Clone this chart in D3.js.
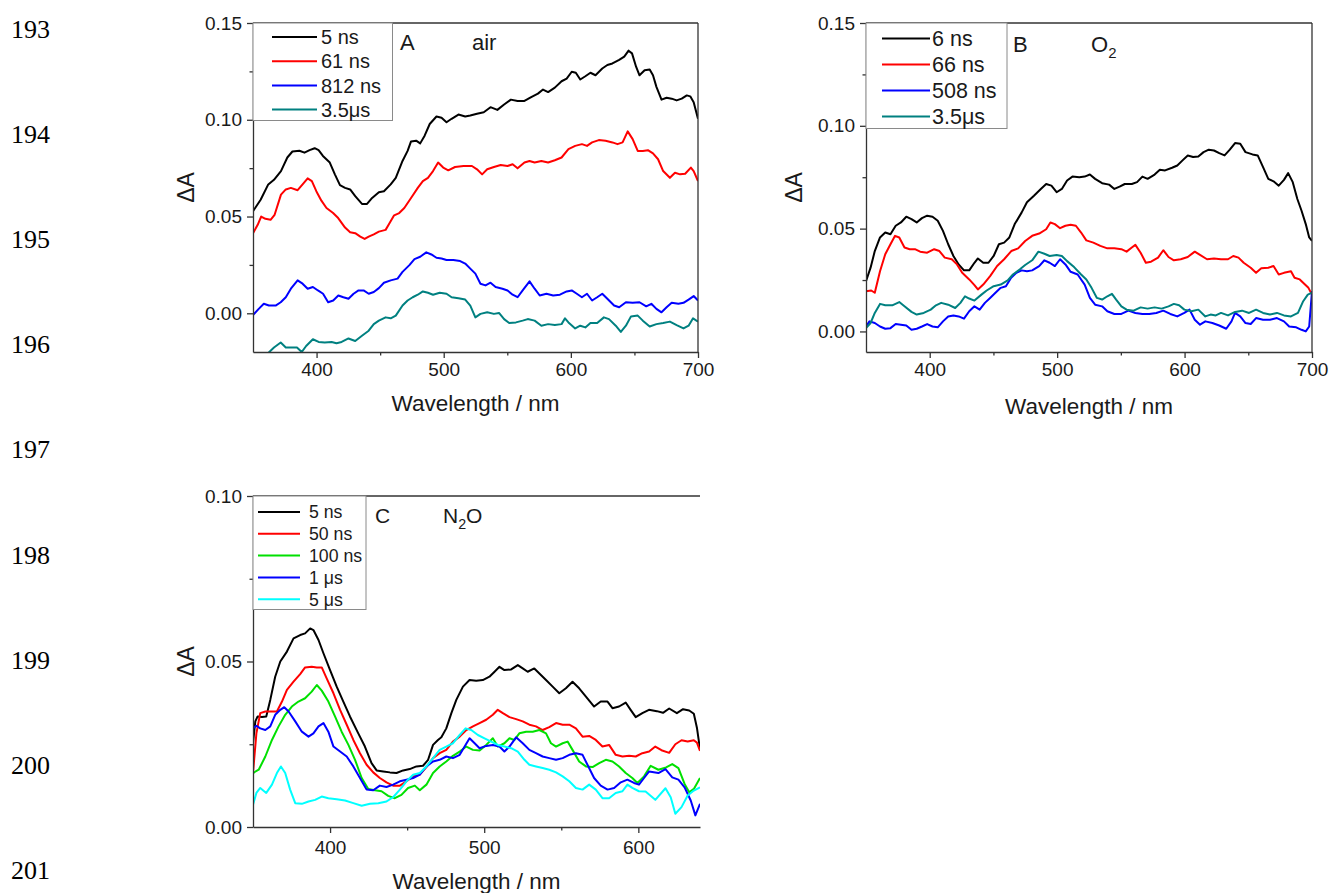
<!DOCTYPE html>
<html><head><meta charset="utf-8">
<script src="https://cdn.jsdelivr.net/npm/d3@7"></script>
<style>
body{margin:0;background:#fff}
svg{display:block}
text{font-family:"Liberation Sans",Arial,Helvetica,sans-serif;fill:#1a1a1a}
.ln{font-family:"Liberation Serif","Times New Roman",serif;fill:#000}
</style>
</head><body>
<svg id="chart" width="1329" height="893"></svg>
<script>
// ---------------- DATA ----------------
const lineNumbers = ["193","194","195","196","197","198","199","200","201"];

const xTicksAB = [400,500,600,700];
const xMinorAB = [450,550,650];
const xTicksC = [400,500,600];
const xMinorC = [450,550];
const yTicksAB = [0.00,0.05,0.10,0.15];
const yMinorAB = [0.025,0.075,0.125];
const yTicksC = [0.00,0.05,0.10];
const yMinorC = [0.025,0.075];

// Panel A (air)
const A_labels = ["5 ns","61 ns","812 ns","3.5\u03bcs"];
const A_colors = ["#000000","#ff0000","#0000ff","#008080"];
const A_5ns = [[350,0.0527],[356,0.0587],[362,0.0666],[366.5,0.069],[372,0.0735],[377,0.0805],[381,0.0836],[386.5,0.084],[390.5,0.083],[394.5,0.0843],[398.5,0.0853],[401.6,0.0843],[405,0.0813],[410.4,0.0779],[414.4,0.0718],[418.4,0.0662],[422.4,0.0648],[426.4,0.064],[430.4,0.0605],[435.7,0.0565],[439.7,0.0565],[443.7,0.0596],[449,0.0626],[453,0.0631],[458.3,0.0666],[462.3,0.07],[467.6,0.0787],[471.6,0.0839],[474.3,0.0888],[478.3,0.0892],[481.5,0.0878],[485,0.0918],[489,0.0978],[494.3,0.1017],[498.3,0.101],[502.2,0.0987],[506.2,0.1005],[511.6,0.1027],[516.9,0.1017],[520.9,0.1022],[526.2,0.1031],[531.5,0.1039],[536.8,0.1065],[542.2,0.1051],[547.5,0.1079],[552.8,0.1104],[558.1,0.1097],[563.5,0.1097],[568.8,0.1117],[574.1,0.1135],[578.1,0.1156],[582.1,0.1143],[587.4,0.1166],[592.7,0.1199],[596.7,0.1213],[600.7,0.1248],[603.9,0.1243],[607.4,0.1208],[611.4,0.1225],[615.4,0.1243],[619.4,0.123],[624.7,0.1265],[628.7,0.1283],[632.7,0.1291],[638,0.1309],[642,0.1326],[645.4,0.1357],[648.1,0.1343],[651.3,0.1274],[654,0.123],[658,0.1256],[662,0.126],[664.6,0.123],[667.3,0.117],[671.3,0.1104],[675.3,0.1114],[679.3,0.1109],[683.2,0.11],[687.2,0.1109],[691.2,0.1126],[693.9,0.1121],[696.6,0.1091],[700,0.1005]];
const A_61ns = [[350,0.0414],[353.7,0.0457],[356.4,0.05],[359.8,0.0488],[363.8,0.0483],[367,0.0509],[372,0.0613],[375.8,0.064],[379.8,0.0648],[385.1,0.0636],[389,0.0666],[393,0.0697],[396.3,0.0683],[399.8,0.0631],[403.8,0.0582],[407.8,0.0544],[413,0.0518],[417,0.0492],[422.4,0.0443],[426.4,0.0419],[430.4,0.0414],[434.4,0.0396],[437.8,0.0384],[441,0.0396],[445,0.0408],[449,0.0422],[454.3,0.0431],[457,0.0461],[461,0.0506],[465,0.0518],[469,0.0544],[474.3,0.0596],[479.6,0.0648],[483.6,0.0683],[487.6,0.07],[491.6,0.0735],[495.6,0.0779],[499.6,0.0753],[503.6,0.0739],[508.9,0.0756],[515.6,0.0761],[522.2,0.0761],[526.2,0.0744],[530.2,0.0718],[534.2,0.0744],[539.5,0.0756],[544.8,0.0766],[550.2,0.0761],[554.2,0.077],[558.1,0.0749],[563.5,0.0779],[567.5,0.0787],[571.5,0.0779],[576.8,0.0787],[582.1,0.0779],[587.4,0.0791],[592.7,0.0805],[598.1,0.0848],[603.4,0.0865],[608.7,0.0874],[612.7,0.0865],[616.7,0.0883],[622,0.0895],[627.3,0.0892],[632.7,0.0883],[636.7,0.0874],[640.7,0.0883],[644.7,0.094],[648.6,0.09],[652.6,0.0839],[656.6,0.0839],[660.6,0.0843],[664.6,0.0826],[668.6,0.0796],[672.6,0.0735],[677.9,0.07],[681.9,0.0726],[685.9,0.0718],[689.9,0.0721],[694.4,0.0753],[696.6,0.0735],[700,0.0683]];
const A_812ns = [[350,-0.0009],[354.5,0.0023],[358.5,0.0049],[362.5,0.004],[367.8,0.004],[371.8,0.0057],[375.8,0.0083],[379.8,0.0127],[385.1,0.017],[389,0.0153],[393,0.0127],[397.1,0.0136],[401.1,0.0118],[405.1,0.0101],[409.1,0.0057],[413.1,0.0066],[417.1,0.0092],[421.1,0.0083],[425.1,0.0075],[429.1,0.0101],[433,0.0118],[437,0.0118],[441,0.0101],[445,0.011],[449,0.013],[453,0.0158],[458.3,0.017],[463.7,0.0179],[467.6,0.0214],[473,0.0249],[477,0.028],[481.5,0.0292],[486.3,0.0315],[490.3,0.0304],[494.3,0.0287],[498.3,0.0283],[502.2,0.0275],[507.6,0.0275],[512.9,0.027],[516.9,0.0257],[520.9,0.0231],[524.9,0.0205],[528.9,0.0153],[532.9,0.0144],[536.8,0.0158],[540.8,0.0136],[546.2,0.0127],[550.2,0.0118],[554.2,0.0096],[558.1,0.0083],[562.1,0.0118],[567.5,0.0165],[571.5,0.0127],[575.5,0.0092],[580.8,0.0101],[586.1,0.0092],[591.4,0.0096],[596.7,0.0113],[600.7,0.0118],[604.7,0.0101],[608.7,0.0083],[612.7,0.0101],[616.7,0.0066],[620.7,0.0083],[624.7,0.0101],[628.7,0.0075],[634,0.004],[638,0.0031],[643.3,0.0057],[648.6,0.0054],[654,0.0057],[659.3,0.0036],[663.3,0.0049],[667.3,0.0023],[671.3,0.0005],[675.3,0.0031],[679.3,0.0054],[684.6,0.0049],[688.6,0.0054],[692.6,0.0071],[696.6,0.0089],[700,0.0066]];
const A_3_5us = [[352,-0.029],[357,-0.025],[361.7,-0.0207],[366.5,-0.0177],[371.8,-0.0151],[375.8,-0.0177],[379.8,-0.0177],[384.6,-0.0177],[388.3,-0.02],[391.8,-0.0169],[397.1,-0.0134],[401.6,-0.0148],[406.4,-0.0151],[411.8,-0.0148],[415.7,-0.0155],[419.7,-0.0148],[425.1,-0.013],[430.4,-0.0143],[435.7,-0.0116],[441,-0.009],[445,-0.0056],[449,-0.0038],[454.3,-0.0021],[458.3,-0.0026],[462.3,-0.0012],[467.6,0.004],[471.6,0.0066],[475.6,0.0083],[479.6,0.0096],[483.6,0.0113],[487.6,0.0106],[491.6,0.0096],[496.9,0.0106],[502.2,0.0101],[506.2,0.0083],[511.6,0.0078],[516.9,0.0071],[520.9,0.004],[524.9,-0.0021],[528.9,-0.0003],[534.2,0.0005],[539.5,-0.0003],[543.5,0.0002],[547.5,-0.003],[551.5,-0.005],[556.8,-0.0047],[562.1,-0.0038],[566.1,-0.003],[571.5,-0.0038],[576.8,-0.0064],[582.1,-0.0056],[587.4,-0.0061],[592.7,-0.0056],[595.4,-0.0026],[598.1,-0.0047],[603.4,-0.0078],[607.4,-0.0064],[611.4,-0.0073],[615.4,-0.005],[620.7,-0.005],[626,-0.0021],[630,-0.003],[635.3,-0.0064],[639.3,-0.0096],[643.3,-0.0064],[647.3,-0.0016],[652.6,-0.0012],[656.6,-0.0038],[662,-0.0068],[667.3,-0.0056],[672.6,-0.005],[677.9,-0.0043],[683.2,-0.0061],[688.6,-0.0078],[692.6,-0.0064],[696.1,-0.0026],[700,-0.0043]];

// Panel B (O2)
const B_labels = ["6 ns","66 ns","508 ns","3.5\u03bcs"];
const B_colors = ["#000000","#ff0000","#0000ff","#008080"];
const B_6ns = [[350,0.0245],[353.6,0.031],[356.9,0.0391],[361,0.0457],[365.1,0.0481],[369.2,0.0473],[373.3,0.0514],[377.4,0.053],[381.6,0.0558],[385.7,0.0546],[389.8,0.053],[393.9,0.0551],[398,0.0563],[402.2,0.0558],[406.3,0.0538],[410.4,0.0489],[414.5,0.0424],[418.6,0.0367],[422.7,0.0326],[426.9,0.0297],[431,0.0297],[435.1,0.0334],[437.8,0.0355],[442,0.0334],[446.1,0.0334],[450.2,0.0367],[454.3,0.0424],[458.4,0.0432],[462.5,0.0457],[466.7,0.0522],[472.2,0.0579],[476.3,0.0628],[481.8,0.066],[487.2,0.0693],[491.4,0.0717],[495.5,0.0709],[499.6,0.0677],[503.7,0.0693],[507.8,0.0734],[512,0.0753],[517.4,0.075],[521.6,0.0753],[525.7,0.0763],[529.8,0.0742],[535.3,0.0721],[540.8,0.0714],[544.9,0.0693],[549,0.0704],[553.1,0.0717],[558.6,0.0717],[562.7,0.0726],[566.9,0.0753],[571,0.0742],[576.5,0.0763],[580.6,0.0786],[584.7,0.0783],[590.2,0.0796],[594.3,0.0807],[598.4,0.0832],[602.5,0.0856],[606.7,0.0848],[610.8,0.0851],[614.9,0.0872],[619,0.0884],[623.1,0.088],[627.2,0.0867],[631.4,0.0856],[635.5,0.0884],[639.6,0.0916],[643.7,0.0913],[647.8,0.0872],[653.3,0.0861],[657.4,0.0856],[661.6,0.0799],[665.7,0.0742],[669.8,0.073],[673.9,0.0709],[678,0.0737],[681.3,0.077],[684.9,0.0726],[688.5,0.0644],[691.8,0.0587],[695.1,0.0522],[697.8,0.0457],[700,0.044]];
const B_66ns = [[350,0.0196],[354.1,0.0199],[356.9,0.0188],[361,0.0293],[365.1,0.0375],[369.2,0.0424],[372.8,0.0465],[376.1,0.0457],[380.2,0.0408],[384.3,0.04],[388.4,0.04],[392.5,0.0388],[398,0.0383],[403.5,0.04],[407.6,0.0391],[411.8,0.0359],[417.3,0.0351],[421.4,0.0326],[425.5,0.0285],[431,0.0253],[435.1,0.0225],[437.8,0.0204],[442,0.0228],[447.4,0.0269],[452.9,0.0318],[458.4,0.0351],[464,0.0391],[469.4,0.0404],[474.9,0.044],[480.4,0.0465],[485.9,0.0476],[491.4,0.0497],[494.7,0.053],[498.2,0.0522],[502.3,0.0502],[506.5,0.0514],[510.6,0.0519],[514.7,0.0514],[518.8,0.0481],[522.9,0.0443],[528.4,0.0432],[533.9,0.0416],[539.4,0.0404],[544.9,0.0404],[550.4,0.04],[554.5,0.0388],[558.6,0.0408],[561.4,0.0421],[565.5,0.0383],[569.6,0.0334],[573.7,0.0339],[579.2,0.0359],[583.3,0.0395],[587.4,0.0362],[591.6,0.0346],[597,0.0351],[602.5,0.0362],[608,0.0388],[612.1,0.0372],[617.6,0.0351],[623.1,0.0355],[628.6,0.0351],[634.1,0.0351],[638.2,0.0367],[642.3,0.0359],[646.4,0.0334],[651.9,0.031],[656.1,0.0285],[660.2,0.0307],[665.7,0.031],[669.8,0.0318],[673.9,0.0277],[678,0.0285],[683.5,0.0293],[686.3,0.0261],[690.4,0.0253],[694.5,0.0228],[697.2,0.0212],[700,0.0179]];
const B_508ns = [[350,0.0024],[352.7,0.0049],[356.9,0.0041],[361,0.0024],[365.1,0.0013],[369.2,0.0016],[373.3,0.0036],[377.4,0.0033],[381.6,0.0029],[385.7,0.0008],[389.8,0.0013],[393.9,0.0024],[398,0.0036],[402.2,0.0024],[406.3,0.002],[410.4,0.0049],[414.5,0.0073],[418.6,0.0078],[422.7,0.0073],[426.9,0.0062],[431,0.0098],[435.1,0.0122],[439.2,0.0106],[443.3,0.0139],[447.4,0.0163],[451.6,0.0188],[455.7,0.0212],[459.8,0.022],[463.9,0.0261],[468,0.0285],[472.2,0.0297],[476.3,0.0293],[480.4,0.0297],[485.9,0.0318],[490,0.0346],[494.1,0.0334],[498.2,0.0318],[502.3,0.0351],[506.5,0.0326],[510.6,0.029],[516.1,0.0277],[521.6,0.0228],[525.7,0.0163],[529.8,0.013],[535.3,0.0122],[539.4,0.0098],[544.9,0.0085],[550.4,0.0085],[555.9,0.0101],[561.4,0.009],[566.9,0.0085],[572.3,0.0085],[577.8,0.009],[583.3,0.0101],[588.8,0.0085],[594.3,0.0073],[599.8,0.009],[603.9,0.0106],[608,0.0057],[612.1,0.0033],[616.3,0.0049],[621.8,0.0041],[627.2,0.0029],[632.7,0.0013],[636.8,0.0049],[639.6,0.009],[643.7,0.0073],[647.8,0.0041],[651.9,0.0036],[656.1,0.0065],[661.6,0.0057],[667,0.0057],[672.5,0.0065],[678,0.0049],[682.1,0.0024],[687.6,0.002],[691.8,0.0008],[695.1,0.0],[697.8,0.0024],[700,0.0196]];
const B_3_5us = [[350,0.0016],[353.6,0.0041],[356.9,0.009],[361,0.0134],[365.1,0.0127],[370.6,0.0127],[376.1,0.0143],[380.2,0.0122],[385.7,0.0095],[389.8,0.0082],[395.3,0.009],[400.8,0.0106],[404.9,0.0127],[409,0.0139],[414.5,0.013],[420,0.0114],[424.1,0.0139],[427.7,0.0171],[431,0.016],[435.1,0.015],[440.6,0.0179],[444.7,0.0199],[450.2,0.022],[455.7,0.0228],[461.2,0.0248],[465.3,0.0277],[470.8,0.0302],[474.9,0.0323],[480.4,0.0346],[485.3,0.0388],[490,0.0378],[494.1,0.0367],[499.6,0.0372],[503.7,0.0367],[507.8,0.0342],[513.3,0.0313],[518.8,0.0277],[522.9,0.0253],[527,0.0212],[531.2,0.0163],[535.3,0.0155],[539.4,0.0171],[543,0.0183],[546.3,0.0155],[550.4,0.0122],[554.5,0.0106],[560,0.0101],[565.5,0.0117],[571,0.0111],[576.5,0.0117],[582,0.0111],[587.4,0.0122],[591.6,0.0134],[595.7,0.0127],[599.8,0.0106],[605.3,0.0098],[610.8,0.0106],[616.3,0.0073],[620.4,0.0082],[624.5,0.0078],[628.6,0.009],[634.1,0.0078],[639.6,0.0095],[645.1,0.0101],[650.6,0.009],[656.1,0.0106],[661.6,0.009],[667,0.0082],[672.5,0.009],[678,0.0078],[683.5,0.0073],[689,0.009],[693.1,0.0147],[696.7,0.0179],[700,0.0188]];

// Panel C (N2O)
const C_labels = ["5 ns","50 ns","100 ns","1 \u03bcs","5 \u03bcs"];
const C_colors = ["#000000","#ff0000","#00e000","#0000ff","#00ffff"];
const C_5ns = [[350,0.0253],[351.5,0.0319],[353,0.0334],[355.8,0.0332],[358.6,0.0334],[361.2,0.0384],[364.4,0.0454],[367.7,0.05],[372,0.053],[376.3,0.057],[380.6,0.058],[383.8,0.0585],[387.1,0.06],[389.2,0.0595],[392.5,0.0565],[395.7,0.0525],[400,0.0474],[404.3,0.0424],[408.6,0.0379],[412.9,0.0334],[418.3,0.0283],[422.6,0.0243],[426.9,0.0193],[430.2,0.0171],[434.5,0.0168],[438.8,0.0165],[443.1,0.0163],[447.4,0.0171],[451.7,0.0175],[456,0.0183],[460.3,0.0185],[463.6,0.0203],[466.8,0.0248],[470,0.0263],[472.2,0.0271],[475.4,0.0298],[478.7,0.0344],[481.9,0.0384],[486.2,0.0424],[490.5,0.0444],[494.8,0.0442],[499.1,0.0444],[503.4,0.0454],[506.7,0.0469],[509.9,0.0484],[513.1,0.0474],[517.5,0.0476],[521.8,0.0489],[525,0.0479],[528.2,0.0469],[532.5,0.0479],[535.8,0.0464],[540.1,0.0444],[544.4,0.0424],[548.7,0.0404],[553,0.0419],[557.3,0.0439],[561.6,0.0419],[566,0.0394],[571.3,0.0364],[575.6,0.0379],[580,0.0379],[583.2,0.0359],[587.5,0.0364],[591.8,0.0376],[595,0.0354],[598.3,0.0332],[602.6,0.0344],[606.9,0.0354],[612,0.0350],[616,0.0345],[620,0.0358],[625,0.0344],[629,0.0356],[633,0.0352],[636,0.0342],[638,0.030],[640,0.0235]];
const C_50ns = [[350,0.0163],[352.2,0.0283],[354.7,0.0344],[358,0.0349],[362.3,0.0349],[365.5,0.0349],[368.8,0.0379],[372,0.0414],[376.3,0.0439],[380.6,0.0462],[383.8,0.0482],[388.1,0.0484],[391.4,0.0482],[394.6,0.0482],[397.8,0.0449],[402.2,0.0404],[406.5,0.0354],[410.8,0.0309],[415.1,0.0263],[419.4,0.0223],[423.7,0.0188],[428,0.0165],[432.3,0.0148],[436.6,0.0135],[440.9,0.0125],[445.3,0.0125],[449.6,0.0138],[453.9,0.0153],[458.2,0.0158],[462.5,0.0181],[466.8,0.0208],[471.1,0.0223],[475.4,0.0233],[479.7,0.0258],[484.1,0.0273],[488.4,0.0293],[492.7,0.0304],[497,0.0314],[501.3,0.0324],[505.6,0.0339],[508.8,0.0354],[512.1,0.0344],[516.4,0.0332],[520.7,0.0326],[525,0.0319],[529.3,0.0309],[533.6,0.0304],[537.9,0.0293],[542.2,0.0302],[546.6,0.0314],[550.9,0.0309],[555.2,0.0309],[559.5,0.0298],[563.8,0.0273],[568.1,0.0275],[572.4,0.0263],[576.7,0.0243],[581,0.0248],[585.3,0.0218],[589.7,0.0213],[594,0.0215],[598.3,0.0213],[602.6,0.0223],[607,0.0228],[611,0.0243],[615,0.0232],[620,0.0224],[624,0.0250],[628,0.0262],[632,0.0258],[636,0.0262],[638,0.0255],[640,0.0230]];
const C_100ns = [[350,0.0163],[353.7,0.0173],[358,0.0213],[362.3,0.0263],[366.6,0.0304],[370.9,0.0339],[375.2,0.0364],[379.5,0.0379],[383.8,0.0389],[388.1,0.0409],[391.4,0.0429],[394.6,0.0412],[398.9,0.0379],[403.2,0.0334],[407.5,0.0288],[411.9,0.0248],[416.2,0.0203],[420.5,0.0148],[424.8,0.0115],[429.1,0.0111],[433.4,0.0108],[437.7,0.0094],[442,0.0087],[446.3,0.0097],[450.6,0.0118],[455,0.0125],[458.2,0.0111],[462.5,0.0128],[466.8,0.0163],[471.1,0.0183],[475.4,0.0198],[479.7,0.0215],[484.1,0.0228],[488.4,0.0243],[492.7,0.0233],[497,0.0231],[501.3,0.0248],[505.6,0.0268],[508.8,0.0243],[513.1,0.0253],[516.4,0.0268],[519.6,0.0263],[522.8,0.0283],[527.2,0.0288],[531.5,0.0288],[535.8,0.0293],[540.1,0.0283],[543.3,0.0253],[546.6,0.0243],[550.9,0.0253],[554.1,0.0258],[557.3,0.0233],[561.6,0.0198],[566,0.0183],[570.3,0.0181],[574.6,0.0193],[578.9,0.0203],[583.2,0.0198],[587.5,0.0183],[591.8,0.0163],[596.1,0.0148],[599.4,0.0133],[603.7,0.0153],[608,0.0185],[613,0.0173],[618,0.0180],[622,0.0190],[626,0.0178],[630,0.0130],[633,0.0105],[636,0.0115],[640,0.0148]];
const C_1us = [[350,0.0298],[352.2,0.0306],[354.7,0.0298],[358,0.0293],[361.2,0.0304],[364.4,0.0339],[367.7,0.0354],[370.3,0.0362],[373.1,0.0349],[377.4,0.0319],[381.7,0.0288],[386,0.0273],[389.2,0.0283],[392.5,0.0304],[395.7,0.0314],[398.9,0.0288],[402.2,0.0243],[406.5,0.0228],[410.8,0.0213],[415.1,0.0183],[419.4,0.0148],[423.7,0.0113],[428,0.0111],[432.3,0.0125],[436.6,0.0121],[440.9,0.0128],[445.3,0.0138],[449.6,0.0143],[453.9,0.0148],[458.2,0.0158],[462.5,0.0183],[466.8,0.0198],[471.1,0.0203],[475.4,0.0213],[479.7,0.0208],[484.1,0.0218],[487.3,0.0243],[490.5,0.0268],[493.8,0.0253],[497,0.0238],[501.3,0.0245],[505.6,0.0248],[509.9,0.0243],[513.1,0.0228],[516.4,0.0243],[520.7,0.0271],[525,0.0253],[529.3,0.0233],[533.6,0.0223],[537.9,0.0213],[542.2,0.0208],[546.6,0.0203],[550.9,0.0208],[555.2,0.0218],[559.5,0.0223],[563.8,0.0218],[567,0.0188],[571.3,0.0148],[575.6,0.0125],[580,0.0113],[584.3,0.0118],[588.6,0.0135],[592.9,0.0143],[597.2,0.0133],[600.4,0.0128],[603.7,0.0148],[607,0.0168],[613,0.0163],[617.6,0.0175],[622,0.0150],[626,0.0143],[630,0.0120],[634,0.0080],[637,0.0035],[640,0.0070]];
const C_5us = [[350,0.0067],[352.2,0.0103],[354.7,0.0118],[358.6,0.0103],[362.3,0.0128],[365.5,0.0163],[368.1,0.0183],[370.9,0.0163],[374.1,0.0113],[377.4,0.0072],[381.7,0.007],[386,0.0077],[390.3,0.0082],[394.6,0.0092],[398.9,0.0087],[404.3,0.0084],[409.7,0.008],[415.1,0.0072],[420.5,0.0064],[425.9,0.007],[431.3,0.0072],[436.6,0.0077],[440.9,0.009],[445.3,0.0113],[449.6,0.0138],[453.9,0.0158],[458.2,0.0163],[462.5,0.0183],[466.8,0.0208],[471.1,0.0233],[475.4,0.0243],[479.7,0.0253],[484.1,0.0278],[487.9,0.0298],[491.6,0.0293],[495.9,0.0278],[500.2,0.0268],[504.5,0.0258],[508.8,0.0248],[513.1,0.0243],[517.5,0.0238],[521.8,0.0228],[526.1,0.0203],[529.3,0.0188],[533.6,0.0183],[537.9,0.0178],[542.2,0.0173],[546.6,0.0165],[550.9,0.0153],[555.2,0.0138],[559.5,0.0118],[563.8,0.0113],[568.1,0.0128],[572.4,0.0113],[576.7,0.0087],[581,0.0087],[585.3,0.0103],[589.7,0.0108],[592.9,0.0128],[596.1,0.0118],[600.4,0.0108],[604.7,0.0107],[611,0.0082],[617.6,0.0117],[621,0.0090],[624,0.0040],[628,0.0060],[632,0.0095],[636,0.0110],[640,0.0120]];

// ---------------- DRAW ----------------
const svg = d3.select("#chart");

svg.selectAll("text.ln").data(lineNumbers).join("text")
  .attr("class","ln").attr("x",11).attr("y",(d,i)=>38 + i*105.1)
  .attr("font-size",26).text(d=>d);

function drawPanel(cfg){
  const g = svg.append("g");
  const x = d3.scaleLinear().domain(cfg.xDomain).range([cfg.left, cfg.right]);
  const y = d3.scaleLinear().domain(cfg.yDomain).range([cfg.bottom, cfg.top]);
  const clipId = "clip" + cfg.id;
  svg.append("clipPath").attr("id", clipId).append("rect")
    .attr("x", cfg.left).attr("y", cfg.top)
    .attr("width", cfg.right - cfg.left).attr("height", cfg.bottom - cfg.top);

  const line = d3.line().x(d => x(d[0])).y(d => y(d[1]));
  g.append("g").attr("clip-path", `url(#${clipId})`)
    .selectAll("path").data(cfg.series).join("path")
    .attr("d", s => line(s.data)).attr("fill","none")
    .attr("stroke", s => s.color).attr("stroke-width", 2)
    .attr("stroke-linejoin","round");

  // axes
  const axisColor = "#333";
  const bx = g.append("g").attr("transform", `translate(0,${cfg.bottom})`)
    .call(d3.axisBottom(x).tickValues(cfg.xTicks).tickSize(6).tickSizeOuter(0).tickPadding(cfg.xPad).tickFormat(d3.format("d")));
  g.append("g").attr("transform", `translate(0,${cfg.bottom})`)
    .call(d3.axisBottom(x).tickValues(cfg.xMinor).tickSize(3.5).tickSizeOuter(0).tickFormat(""))
    .select(".domain").remove();
  const ly = g.append("g").attr("transform", `translate(${cfg.left},0)`)
    .call(d3.axisLeft(y).tickValues(cfg.yTicks).tickSize(6).tickSizeOuter(0).tickPadding(5).tickFormat(d3.format(".2f")));
  g.append("g").attr("transform", `translate(${cfg.left},0)`)
    .call(d3.axisLeft(y).tickValues(cfg.yMinor).tickSize(3.5).tickSizeOuter(0).tickFormat(""))
    .select(".domain").remove();
  g.selectAll(".domain, .tick line").attr("stroke", axisColor).attr("stroke-width", 1.3);
  g.selectAll(".tick text").attr("font-size", 19).attr("fill","#1a1a1a")
    .attr("font-family",'"Liberation Sans",Arial,sans-serif');

  // frame top / right
  g.append("line").attr("x1", cfg.left).attr("x2", cfg.right).attr("y1", cfg.top).attr("y2", cfg.top)
    .attr("stroke", axisColor).attr("stroke-width", 1.3);
  if (cfg.rightFrame) {
    g.append("line").attr("x1", cfg.right).attr("x2", cfg.right).attr("y1", cfg.top).attr("y2", cfg.bottom)
      .attr("stroke", axisColor).attr("stroke-width", 1.3);
  }

  // axis titles
  g.append("text").attr("x", (cfg.left + cfg.right)/2).attr("y", cfg.xTitleY)
    .attr("text-anchor","middle").attr("font-size", 22.5).text("Wavelength / nm");
  g.append("text").attr("transform", `translate(${cfg.yTitleX},${(cfg.top+cfg.bottom)/2}) rotate(-90)`)
    .attr("text-anchor","middle").attr("font-size", 23).text("\u0394A");

  // legend
  const L = cfg.legend;
  g.append("rect").attr("x", cfg.left).attr("y", cfg.top).attr("width", L.right - cfg.left).attr("height", L.bottom - cfg.top)
    .attr("fill","#fff").attr("stroke","#8a8a8a").attr("stroke-width",1);
  cfg.series.forEach((s, i) => {
    const yy = L.y0 + i * L.dy;
    g.append("line").attr("x1", L.x1).attr("x2", L.x2).attr("y1", yy).attr("y2", yy)
      .attr("stroke", s.color).attr("stroke-width", 2);
    g.append("text").attr("x", L.tx).attr("y", yy).attr("dy","0.36em")
      .attr("font-size", L.fs).text(s.name);
  });

  // panel letter & atmosphere
  g.append("text").attr("x", cfg.letterX).attr("y", cfg.labelY).attr("font-size", cfg.labelFs).text(cfg.letter);
  const t = g.append("text").attr("x", cfg.gasX).attr("y", cfg.labelY).attr("font-size", cfg.labelFs);
  cfg.gas.forEach(part => {
    if (part.sub) t.append("tspan").attr("dy", 6).attr("font-size", cfg.labelFs*0.68).text(part.t);
    else t.append("tspan").attr("dy", part.up ? -6 : 0).text(part.t);
  });
}

function mk(labels, colors, datas){ return labels.map((n,i)=>({name:n, color:colors[i], data:datas[i]})); }

drawPanel({id:"A", left:253, right:698, top:23, bottom:352,
  xDomain:[350,700], yDomain:[-0.02,0.15],
  xTicks:xTicksAB, xMinor:xMinorAB, yTicks:yTicksAB, yMinor:yMinorAB, xPad:5, rightFrame:true,
  series: mk(A_labels, A_colors, [A_5ns, A_61ns, A_812ns, A_3_5us]),
  legend:{right:392.5, bottom:120.5, x1:272, x2:317, tx:321, y0:37, dy:24.2, fs:20},
  letter:"A", letterX:400, gas:[{t:"air"}], gasX:472, labelY:50, labelFs:22,
  xTitleY:411, yTitleX:194});

drawPanel({id:"B", left:866, right:1312, top:23, bottom:352,
  xDomain:[350,700], yDomain:[-0.01,0.15],
  xTicks:xTicksAB, xMinor:xMinorAB, yTicks:yTicksAB, yMinor:yMinorAB, xPad:5, rightFrame:true,
  series: mk(B_labels, B_colors, [B_6ns, B_66ns, B_508ns, B_3_5us]),
  legend:{right:1007, bottom:128.5, x1:882, x2:930, tx:932, y0:38.5, dy:26, fs:21.5},
  letter:"B", letterX:1013, gas:[{t:"O"},{t:"2",sub:true}], gasX:1091, labelY:52, labelFs:22,
  xTitleY:414, yTitleX:802});

drawPanel({id:"C", left:253, right:700, top:496, bottom:827,
  xDomain:[350,640], yDomain:[0,0.10],
  xTicks:xTicksC, xMinor:xMinorC, yTicks:yTicksC, yMinor:yMinorC, xPad:8, rightFrame:false,
  series: mk(C_labels, C_colors, [C_5ns, C_50ns, C_100ns, C_1us, C_5us]),
  legend:{right:366, bottom:609.5, x1:258, x2:300, tx:309, y0:512, dy:21.8, fs:17.7},
  letter:"C", letterX:375, gas:[{t:"N"},{t:"2",sub:true},{t:"O",up:true}], gasX:443, labelY:523, labelFs:21,
  xTitleY:889, yTitleX:194});
</script>
</body></html>
